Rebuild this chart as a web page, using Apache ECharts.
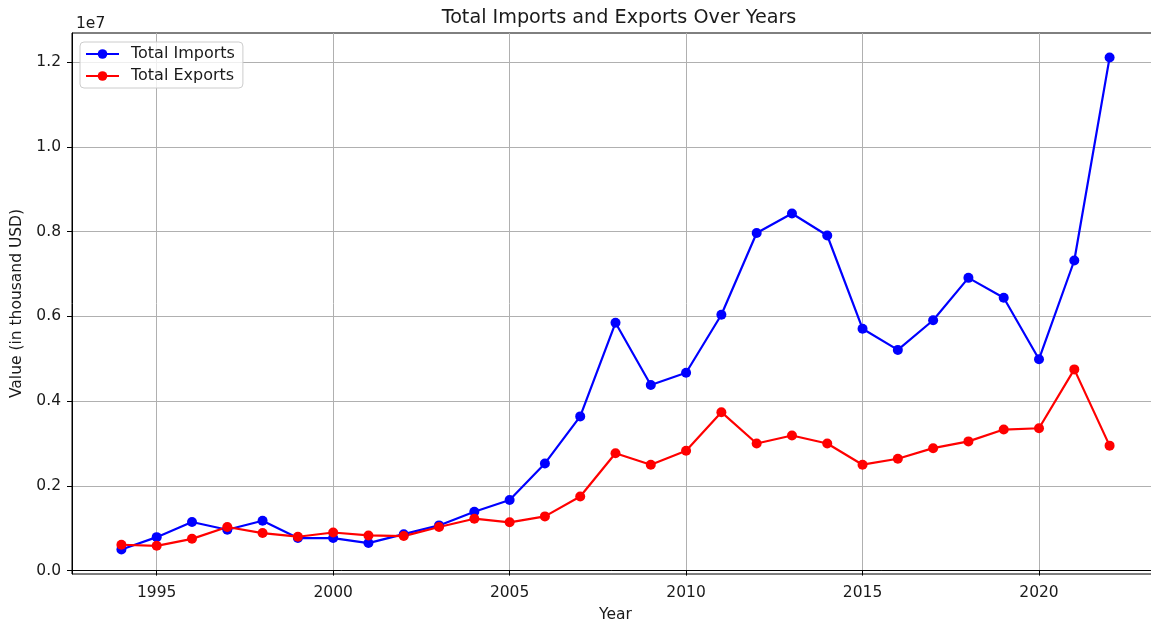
<!DOCTYPE html>
<html>
<head>
<meta charset="utf-8">
<script src="https://cdn.jsdelivr.net/npm/echarts@6/dist/echarts.min.js"></script>
<style>html,body{margin:0;padding:0;background:#fff}#c{width:1151px;height:627px}</style>
</head>
<body>
<div id="c"></div>
<script>
const years = [1994,1995,1996,1997,1998,1999,2000,2001,2002,2003,2004,2005,2006,2007,2008,2009,2010,2011,2012,2013,2014,2015,2016,2017,2018,2019,2020,2021,2022];
const totalImports = [500000,790000,1147000,965000,1178000,768000,768000,650000,860000,1067000,1390000,1668000,2530000,3640000,5850000,4380000,4670000,6040000,7970000,8430000,7910000,5710000,5210000,5910000,6910000,6440000,4990000,7320000,12110000];
const totalExports = [610000,585000,750000,1030000,886000,800000,900000,830000,815000,1030000,1225000,1140000,1280000,1750000,2770000,2500000,2830000,3740000,3000000,3190000,3000000,2500000,2640000,2890000,3050000,3330000,3360000,4750000,2950000];
const xTicks = [1995,2000,2005,2010,2015,2020];
const yTicks = [0,2000000,4000000,6000000,8000000,10000000,12000000];

const font = 'DejaVu Sans';
const fs = 15.5;
const chart = echarts.init(document.getElementById('c'), null, {renderer:'canvas'});
const pair = a => years.map((y,i)=>[y,a[i]]);
chart.setOption({
  animation:false,
  textStyle:{fontFamily:font},
  title:[
    {text:'Total Imports and Exports Over Years', left:614, textAlign:'center', top:4,
     textStyle:{fontFamily:font,fontSize:19.2,fontWeight:'normal',color:'#1a1a1a'}},
    {text:'1e7', left:71, top:11, textStyle:{fontFamily:font,fontSize:fs,fontWeight:'normal',color:'#1a1a1a'}}
  ],
  legend:{
    orient:'vertical', left:80, top:42, itemWidth:33, itemHeight:12, itemGap:6,
    padding:[4,8,4,5],
    backgroundColor:'rgba(255,255,255,0.8)', borderColor:'#cccccc', borderWidth:1, borderRadius:4,
    textStyle:{fontFamily:font,fontSize:16,color:'#1a1a1a',padding:[0,0,0,7]},
    data:['Total Imports','Total Exports']
  },
  grid:{left:72, right:-8, top:33, bottom:53, show:true, borderColor:'#000', borderWidth:1,
    containLabel:false, outerBoundsMode:'none'},
  xAxis:{
    type:'value', min:1992.6, max:2023.4,
    name:'Year', nameLocation:'middle', nameGap:33,
    nameTextStyle:{fontFamily:font,fontSize:fs,color:'#1a1a1a'},
    axisLine:{show:true,lineStyle:{color:'#000',width:1}},
    axisTick:{show:true,length:5,lineStyle:{color:'#000'},customValues:xTicks},
    axisLabel:{customValues:xTicks,color:'#1a1a1a',fontSize:fs,fontFamily:font,margin:11,
      formatter:v=>String(v)},
    splitLine:{show:true,lineStyle:{color:'#b0b0b0',width:1}}
  },
  yAxis:{
    type:'value', min:-80000, max:12690000,
    name:'Value (in thousand USD)', nameLocation:'middle', nameGap:46, nameRotate:90,
    nameTextStyle:{fontFamily:font,fontSize:fs,color:'#1a1a1a'},
    axisLine:{show:true,lineStyle:{color:'#000',width:1}},
    axisTick:{show:true,length:5,lineStyle:{color:'#000'},customValues:yTicks},
    axisLabel:{customValues:yTicks,color:'#1a1a1a',fontSize:fs,fontFamily:font,margin:11,
      formatter:v=>(v/1e7).toFixed(1)},
    splitLine:{show:true,lineStyle:{color:'#b0b0b0',width:1}}
  },
  series:[
    {name:'Total Imports', type:'line', data:pair(totalImports), symbol:'circle', symbolSize:10,
     lineStyle:{color:'#0000ff',width:2.2}, itemStyle:{color:'#0000ff'}},
    {name:'Total Exports', type:'line', data:pair(totalExports), symbol:'circle', symbolSize:10,
     lineStyle:{color:'#ff0000',width:2.2}, itemStyle:{color:'#ff0000'}}
  ]
});
</script>
</body>
</html>
